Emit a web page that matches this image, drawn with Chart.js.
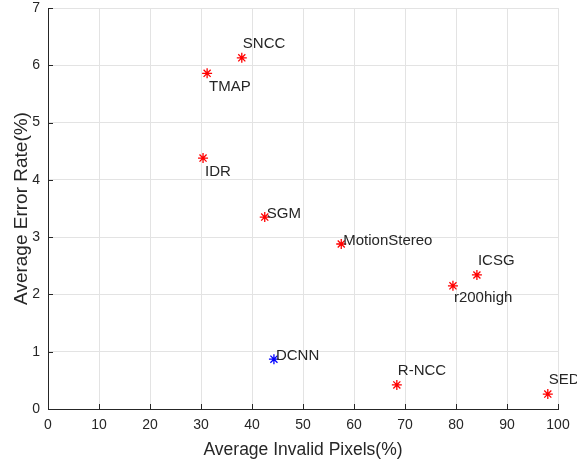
<!DOCTYPE html>
<html>
<head>
<meta charset="utf-8">
<script src="https://cdn.jsdelivr.net/npm/chart.js@4.4.1/dist/chart.umd.min.js"></script>
<style>
  html, body { margin: 0; padding: 0; background: #fff; }
  #wrap { width: 577px; height: 464px; }
</style>
</head>
<body>
<div id="wrap"><canvas id="c" width="577" height="464"></canvas></div>
<script>
// Methods compared: invalid pixel share vs. error rate
const methods = ['SNCC', 'TMAP', 'IDR', 'SGM', 'MotionStereo', 'ICSG', 'r200high', 'R-NCC', 'SED'];
const invalidPixels = [38.0, 31.2, 30.4, 42.5, 57.5, 84.1, 79.4, 68.4, 98.0];
const errorRate = [6.13, 5.86, 4.38, 3.35, 2.88, 2.34, 2.15, 0.42, 0.26];

const oursName = ['DCNN'];
const oursInvalid = [44.3];
const oursError = [0.87];

// label placement relative to each point: 'ur' up-right, 'dr' down-right, 'r' right, 'd' below
const labelPos = ['ur', 'dr', 'dr', 'r', 'r', 'ur', 'd', 'ur', 'ur'];
const oursLabelPos = ['r'];

const xTicks = [0, 10, 20, 30, 40, 50, 60, 70, 80, 90, 100];
const yTicks = [0, 1, 2, 3, 4, 5, 6, 7];

const textColor = '#262626';
const font = "'Liberation Sans', Arial, sans-serif";

const toPoints = (xs, ys) => xs.map((x, i) => ({ x: x, y: ys[i] }));

const pointLabels = {
  id: 'pointLabels',
  afterDatasetsDraw(chart) {
    const ctx = chart.ctx;
    ctx.save();
    ctx.font = '15px ' + font;
    ctx.fillStyle = textColor;
    chart.data.datasets.forEach((ds, di) => {
      const meta = chart.getDatasetMeta(di);
      meta.data.forEach((el, i) => {
        const name = ds.names[i];
        const pos = ds.positions[i];
        let x = el.x, y = el.y;
        ctx.textBaseline = 'middle';
        ctx.textAlign = 'left';
        if (pos === 'ur') { x += 1; y -= 14; }
        else if (pos === 'dr') { x += 2; y += 14; }
        else if (pos === 'r') { x += 2; y -= 3; }
        else if (pos === 'd') { x += 1; y += 12; }
        ctx.fillText(name, x, y);
      });
    });
    ctx.restore();
  }
};

// inward tick marks on the left and bottom axes
const inwardTicks = {
  id: 'inwardTicks',
  afterDraw(chart) {
    const ctx = chart.ctx;
    const xs = chart.scales.x, ys = chart.scales.y;
    const a = chart.chartArea;
    ctx.save();
    ctx.strokeStyle = textColor;
    ctx.lineWidth = 1;
    ctx.beginPath();
    xTicks.forEach(v => {
      const px = Math.round(xs.getPixelForValue(v)) + 0.5;
      ctx.moveTo(px, a.bottom);
      ctx.lineTo(px, a.bottom - 5);
    });
    yTicks.forEach(v => {
      const py = Math.round(ys.getPixelForValue(v)) + 0.5;
      ctx.moveTo(a.left, py);
      ctx.lineTo(a.left + 5, py);
    });
    ctx.stroke();
    ctx.restore();
  }
};

new Chart(document.getElementById('c'), {
  type: 'scatter',
  data: {
    datasets: [
      {
        data: toPoints(invalidPixels, errorRate),
        names: methods,
        positions: labelPos,
        pointStyle: 'star',
        radius: 5,
        hoverRadius: 5,
        borderColor: '#ff0000',
        backgroundColor: '#ff0000',
        borderWidth: 1.3
      },
      {
        data: toPoints(oursInvalid, oursError),
        names: oursName,
        positions: oursLabelPos,
        pointStyle: 'star',
        radius: 5,
        hoverRadius: 5,
        borderColor: '#0000ff',
        backgroundColor: '#0000ff',
        borderWidth: 1.3
      }
    ]
  },
  options: {
    responsive: false,
    animation: false,
    events: [],
    layout: { padding: { top: 8, right: 19, left: 0, bottom: 0 } },
    plugins: { legend: { display: false }, tooltip: { enabled: false } },
    scales: {
      x: {
        type: 'linear',
        min: 0, max: 100,
        afterBuildTicks(scale) { scale.ticks = xTicks.map(v => ({ value: v })); },
        afterFit(scale) { scale.height = 55; scale.paddingLeft = 0; scale.paddingRight = 0; },
        grid: { color: '#e3e3e3', lineWidth: 1, drawTicks: false },
        border: { display: true, color: textColor, width: 1 },
        ticks: { color: textColor, font: { family: font, size: 14 }, padding: 8, maxRotation: 0 },
        title: { display: true, text: 'Average Invalid Pixels(%)', color: textColor, font: { family: font, size: 17.5 }, padding: { top: 0, bottom: 3.5 } }
      },
      y: {
        type: 'linear',
        min: 0, max: 7,
        afterBuildTicks(scale) { scale.ticks = yTicks.map(v => ({ value: v })); },
        afterFit(scale) { scale.width = 48; scale.paddingTop = 0; scale.paddingBottom = 0; },
        grid: { color: '#e3e3e3', lineWidth: 1, drawTicks: false },
        border: { display: true, color: textColor, width: 1 },
        ticks: { color: textColor, font: { family: font, size: 14 }, padding: 8 },
        title: { display: true, text: 'Average Error Rate(%)', color: textColor, font: { family: font, size: 19 }, padding: { top: 10, bottom: 0 } }
      }
    }
  },
  plugins: [pointLabels, inwardTicks]
});
</script>
</body>
</html>
